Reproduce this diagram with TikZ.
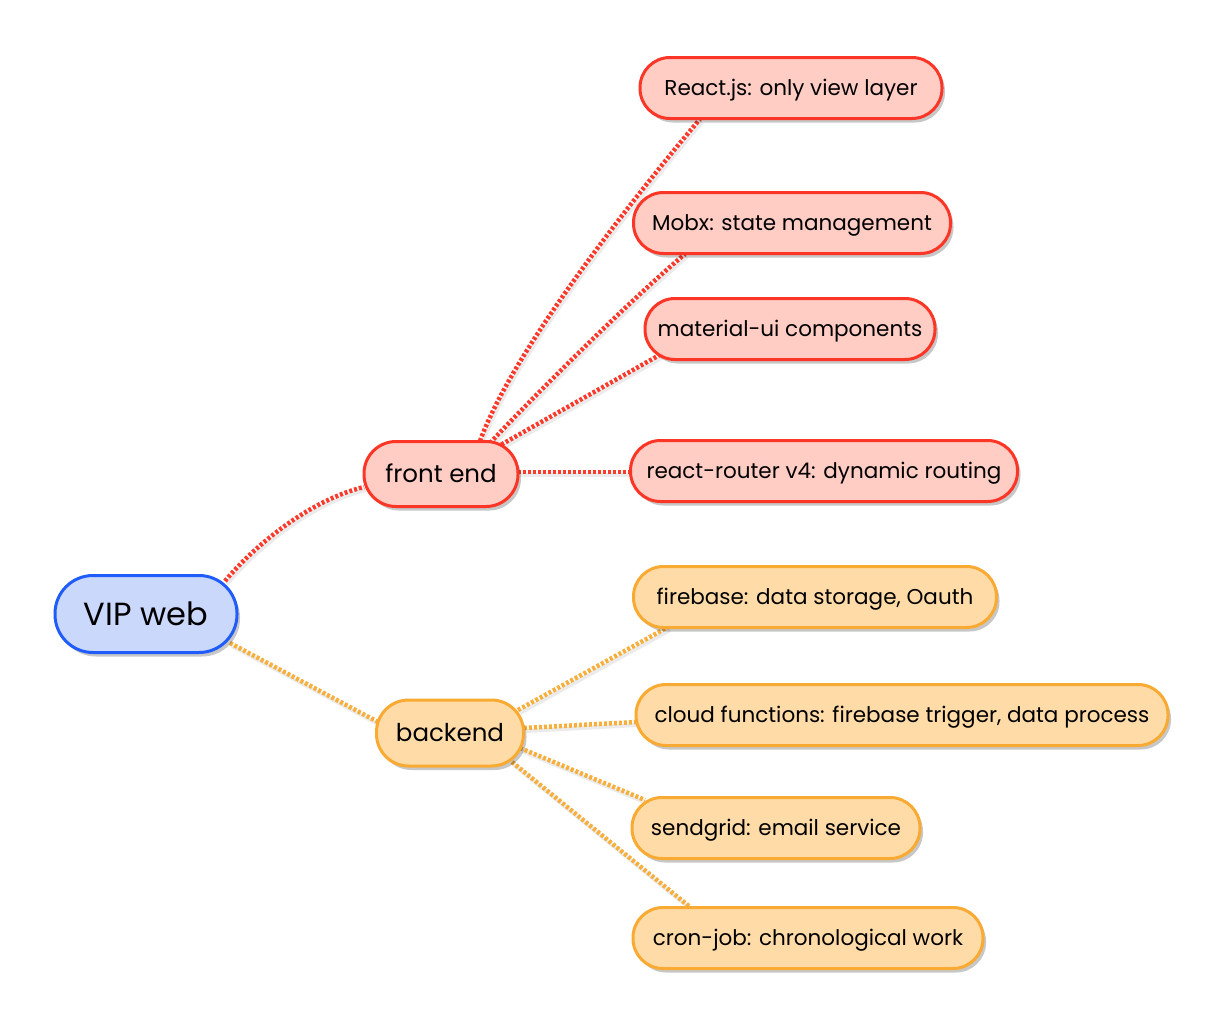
\documentclass[tikz,border=0pt]{standalone}
\usepackage{fontspec}
\setmainfont{Poppins}
\usetikzlibrary{shadows,calc,backgrounds}
\definecolor{blueB}{HTML}{1F5CFA}
\definecolor{blueF}{HTML}{CAD8FB}
\definecolor{redB}{HTML}{FC3626}
\definecolor{redF}{HTML}{FFCDC4}
\definecolor{redL}{HTML}{FA3A2C}
\definecolor{oraB}{HTML}{F8AA32}
\definecolor{oraF}{HTML}{FFDBA8}
\definecolor{oraL}{HTML}{F7AE3A}
\begin{document}
\begin{tikzpicture}[x=1pt,y=-1pt,
  box/.style={line width=3pt, inner sep=0pt, align=center, text depth=0pt,
    drop shadow={shadow xshift=3pt, shadow yshift=-4pt, opacity=0.22, fill=black}},
  rootbox/.style={box, draw=blueB, fill=blueF, rounded corners=38pt, minimum height=77pt, text height=22.5pt, font=\fontsize{32}{36}\selectfont},
  febox/.style={box, draw=redB, fill=redF, rounded corners=32pt, minimum height=65pt, text height=17pt, font=\fontsize{24.5}{28}\selectfont},
  bebox/.style={box, draw=oraB, fill=oraF, rounded corners=32pt, minimum height=66pt, text height=17pt, font=\fontsize{24.5}{28}\selectfont},
  fleaf/.style={box, draw=redB, fill=redF, rounded corners=30pt, minimum height=61pt, text height=15pt, font=\fontsize{21.5}{25}\selectfont},
  bleaf/.style={box, draw=oraB, fill=oraF, rounded corners=30pt, minimum height=61pt, text height=15pt, font=\fontsize{21.5}{25}\selectfont},
  lshadow/.style={preaction={draw=black, draw opacity=0.08, line width=4pt, solid,
      transform canvas={shift={(2pt,-3pt)}}}},
  redline/.style={lshadow, draw=redL, line width=4.5pt, dash pattern=on 3pt off 2pt},
  oraline/.style={lshadow, draw=oraL, line width=4.5pt, dash pattern=on 3pt off 2pt}]
\useasboundingbox (0,0) rectangle (1212,1012);

\node[rootbox, minimum width=182pt] (root) at (146,614) {VIP web};
\node[febox, minimum width=154pt] (fe) at (441,474) {front end};
\node[bebox, minimum width=147pt] (be) at (450,733) {backend};

\node[fleaf, minimum width=302pt] (react) at (791,88) {React.js: only view layer};
\node[fleaf, minimum width=317pt] (mobx) at (792,223) {Mobx: state management};
\node[fleaf, minimum width=290pt] (mui) at (790,329) {material-ui components};
\node[fleaf, minimum width=387pt] (router) at (824,471) {react-router v4: dynamic routing};

\node[bleaf, minimum width=363pt] (fire) at (815,597) {firebase: data storage, Oauth};
\node[bleaf, minimum width=532pt] (cloud) at (902,715) {cloud functions: firebase trigger, data process};
\node[bleaf, minimum width=288pt] (send) at (776,828) {sendgrid: email service};
\node[bleaf, minimum width=350pt] (cron) at (808,938) {cron-job: chronological work};

\begin{scope}[on background layer]
\fill[white] (0,0) rectangle (1212,1012);
\draw[redline] ($(root)+(79,-33)$) .. controls ($(root)+(109,-69)$) and ($(fe)+(-131,26)$) .. ($(fe)+(-77,13)$);
\draw[oraline] ($(root)+(84,29)$) -- ($(be)+(-72,-11)$);

\draw[redline] ($(fe)+(39,-33)$) .. controls ($(fe)+(72,-124)$) and ($(react)+(-156,108)$) .. ($(react)+(-91,31)$);
\draw[redline] ($(fe)+(49,-31)$) .. controls ($(fe)+(89,-74)$) and ($(mobx)+(-162,77)$) .. ($(mobx)+(-107,31)$);
\draw[redline] ($(fe)+(56,-27)$) -- ($(mui)+(-127,24)$);
\draw[redline] ($(fe)+(77,-2)$) -- ($(router)+(-193,1)$);

\draw[oraline] ($(be)+(68,-23)$) -- ($(fire)+(-147,30)$);
\draw[oraline] ($(be)+(74,-5)$) -- ($(cloud)+(-266,7)$);
\draw[oraline] ($(be)+(70,15)$) -- ($(send)+(-131,-28)$);
\draw[oraline] ($(be)+(62,29)$) -- ($(cron)+(-118,-31)$);
\end{scope}
\end{tikzpicture}
\end{document}
